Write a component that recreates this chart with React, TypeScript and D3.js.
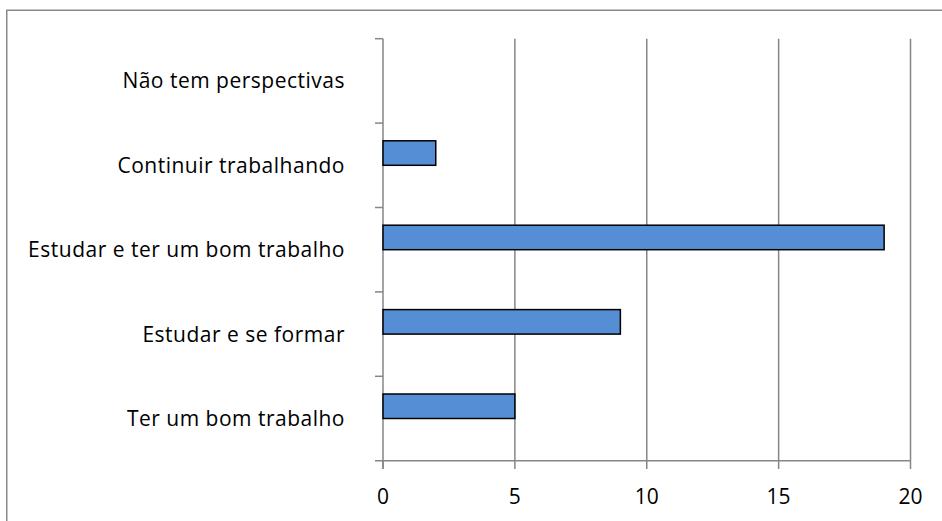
import React from "react";
import * as d3 from "d3";

const categories = [
  "Não tem perspectivas",
  "Continuir trabalhando",
  "Estudar e ter um bom trabalho",
  "Estudar e se formar",
  "Ter um bom trabalho",
];
const values = [0, 2, 19, 9, 5];
const xTicks = [0, 5, 10, 15, 20];

export default function App() {
  const W = 942, H = 521;
  const x = d3.scaleLinear().domain([0, 20]).range([383, 910.5]);
  const y = d3.scaleBand().domain(categories).range([38.7, 460.7]);
  const bw = y.bandwidth();
  const barH = 24.5;
  const font = "Open Sans, sans-serif";
  const grid = "#868686";
  return (
    <svg width={W} height={H} style={{ position: "absolute", left: 0, top: 0, background: "#fff" }}>
      <rect x={6.75} y={10.25} width={W + 10} height={H + 10} fill="#fff" stroke="#8a8a8a" strokeWidth={1.5} />
      {xTicks.filter(t => t > 0).map(t => (
        <line key={"g" + t} x1={x(t)} x2={x(t)} y1={38.7} y2={460.7} stroke={grid} strokeWidth={1.5} />
      ))}
      <line x1={x(0)} x2={x(0)} y1={38.7} y2={469} stroke={grid} strokeWidth={1.5} />
      {categories.map((c, i) => (
        <line key={"yt" + i} x1={375} x2={x(0)} y1={y(c)!} y2={y(c)!} stroke={grid} strokeWidth={1.5} />
      ))}
      <line x1={375} x2={x(20)} y1={460.7} y2={460.7} stroke={grid} strokeWidth={1.5} />
      {xTicks.map(t => (
        <line key={"xt" + t} x1={x(t)} x2={x(t)} y1={460.7} y2={469} stroke={grid} strokeWidth={1.5} />
      ))}
      {xTicks.map(t => (
        <text key={"xl" + t} x={x(t)} y={504} textAnchor="middle" fontFamily={font} fontSize={21} fill="#000">{t}</text>
      ))}
      {categories.map((c, i) => (
        <text key={"yl" + i} x={345} y={y(c)! + bw / 2 + 7.5} textAnchor="end" fontFamily={font} fontSize={21}
          letterSpacing={0.5} fill="#000">{c}</text>
      ))}
      {categories.map((c, i) => values[i] > 0 ? (
        <rect key={"b" + i} x={x(0)} y={y(c)! + bw / 2 - barH} width={x(values[i]) - x(0)} height={barH}
          fill="#558ED5" stroke="#000" strokeWidth={1.5} />
      ) : null)}
    </svg>
  );
}
